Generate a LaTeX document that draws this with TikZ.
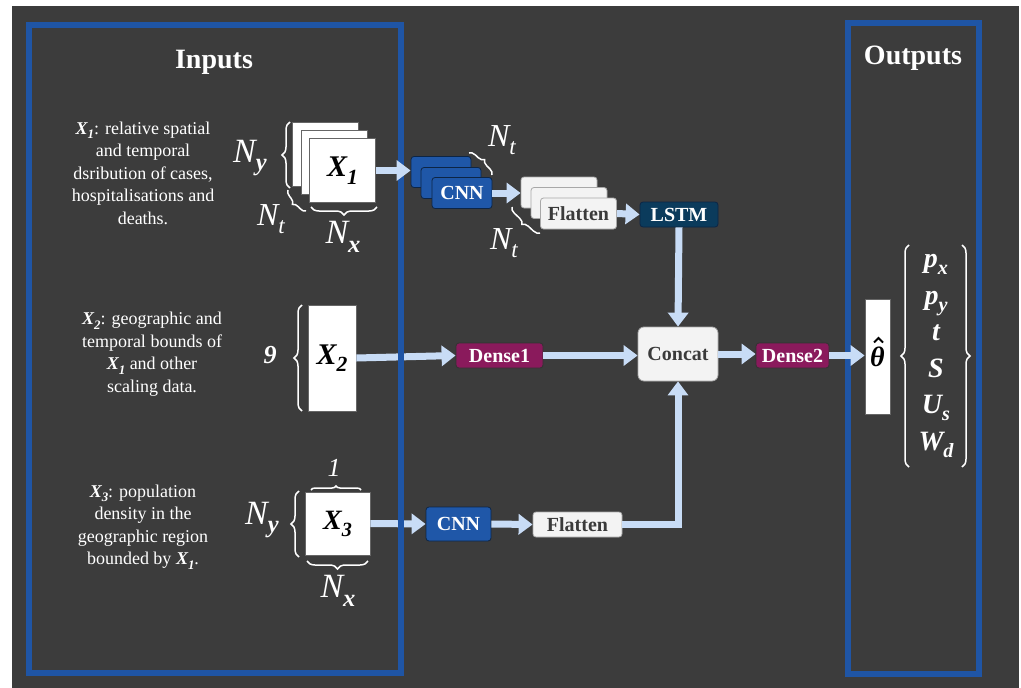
\documentclass[tikz,border=0pt]{standalone}
\usepackage{fontspec}
\usepackage{graphicx}
\setmainfont{Liberation Serif}
\usetikzlibrary{arrows.meta,decorations.pathreplacing,calc}
\definecolor{bg}{HTML}{3C3C3C}
\definecolor{boxblue}{HTML}{1F55A5}
\definecolor{cnnblue}{HTML}{1F57A8}
\definecolor{cnnedge}{HTML}{0D2545}
\definecolor{lstmc}{HTML}{0B3B5C}
\definecolor{densec}{HTML}{8A1A5C}
\definecolor{lightbox}{HTML}{F3F3F3}
\definecolor{lightedge}{HTML}{A8A8A8}
\definecolor{arrowc}{HTML}{C8DCF6}
\definecolor{darktext}{HTML}{3A3A3A}
\newcommand\sbs[1]{\raisebox{-0.25em}{\scalebox{0.72}{#1}}}
\newcommand\bx[1]{{\bfseries\itshape X\sbs{#1}}}
\newcommand\nodefont{\fontsize{20}{20}\selectfont\bfseries}
\begin{document}
\begin{tikzpicture}[x=1pt,y=-1pt,
  desc/.style={text=white, font=\fontsize{18}{22.5}\selectfont, align=center, inner sep=0},
  nlab/.style={text=white, font=\fontsize{34}{34}\selectfont\itshape, inner sep=0},
  title/.style={text=white, font=\fontsize{28}{28}\selectfont\bfseries, inner sep=0},
  sq/.style={draw=black!60, fill=white, line width=0.8, inner sep=0, minimum width=66, minimum height=64},
  bigx/.style={font=\fontsize{30}{30}\selectfont\bfseries\itshape, text=black},
  cnnbox/.style={draw=cnnedge, fill=cnnblue, line width=0.8, rounded corners=3, minimum width=60, minimum height=31, text=white, font=\nodefont, inner sep=0},
  flatbox/.style={draw=lightedge, fill=lightbox, line width=0.8, rounded corners=3, minimum width=76, minimum height=31, text=darktext, font=\nodefont, inner sep=0},
  densebox/.style={draw=black!80, fill=densec, line width=0.8, rounded corners=3, minimum height=25, text=white, font=\nodefont, inner sep=0},
  fat/.style={draw=arrowc, line width=7, -{Triangle[width=20pt,length=14pt]}},
  brc/.style={decorate, decoration={brace, amplitude=8pt}, draw=white, line width=1.5},
  sbrc/.style={decorate, decoration={brace, amplitude=6pt}, draw=white, line width=1.5},
  outline/.style={draw=boxblue, line width=6}
]
\useasboundingbox (0,0) rectangle (1021,688);
\fill[white] (0,0) rectangle (1021,688);
\fill[bg] (12,6) rectangle (1019,688);

% titles
\node[title] (tin) at (214,62) {Inputs};
\node[title] (tout) at (913,58) {Outputs};

% descriptions
\node[desc] (d1) at (143,173) {\bx{1}: relative spatial\\and temporal\\dsribution of cases,\\hospitalisations and\\deaths.};
\node[desc] (d2) at (152,354) {\bx{2}: geographic and\\temporal bounds of\\\bx{1} and other\\scaling data.};
\node[desc] (d3) at (143,527) {\bx{3}: population\\density in the\\geographic region\\bounded by \bx{1}.};

% X1 stack
\node[sq] (x1a) at (325.5,154) {};
\node[sq] (x1b) at (334,162) {};
\node[sq, bigx] (x1) at (342.5,170.5) {X\sbs{1}};
\draw[brc] (290,188) -- (290,122);
\node[nlab] (ny1) at (250,158) {N\sbs{\bfseries y}};
\draw[sbrc] (306,211) -- (288,190);
\node[nlab, font=\fontsize{32}{32}\selectfont\itshape] (nt1) at (271,219) {N\sbs{t}};
\draw[brc] (377,207) -- (311,207);
\node[nlab] (nx1) at (343,237) {N\sbs{\bfseries x}};

% CNN stack
\node[cnnbox] (c1a) at (441,172) {};
\node[cnnbox] (c1b) at (451,183) {};
\node[cnnbox] (cnn1) at (462,193) {CNN};
\draw[sbrc] (469,153) -- (492,175);
\node[nlab, font=\fontsize{32}{32}\selectfont\itshape] (nt2) at (502,140) {N\sbs{t}};

% Flatten stack
\node[flatbox] (f1a) at (559,192.5) {};
\node[flatbox] (f1b) at (569,203) {};
\node[flatbox] (flat1) at (578.5,213.5) {Flatten};
\draw[sbrc] (540,233) -- (512,207);
\node[nlab, font=\fontsize{32}{32}\selectfont\itshape] (nt3) at (504,243) {N\sbs{t}};

% LSTM
\node[cnnbox, fill=lstmc, minimum width=78, minimum height=25] (lstm) at (679,214.5) {LSTM};

% X2
\node[sq, bigx, minimum width=48, minimum height=106] (x2) at (332,358) {X\sbs{2}};
\draw[brc] (302,411) -- (302,305);
\node[nlab, font=\fontsize{26}{26}\selectfont\bfseries\itshape] (nine) at (270,355) {9};

\node[densebox, minimum width=87] (dense1) at (499.5,355.5) {Dense1};
\node[flatbox, rounded corners=6, minimum width=80, minimum height=54] (concat) at (678,354) {Concat};
\node[densebox, minimum width=73] (dense2) at (792.5,355.5) {Dense2};
\node[sq, minimum width=25, minimum height=115, font=\fontsize{28}{28}\selectfont\bfseries\itshape] (theta) at (877.5,356.5) {θ};
\draw[line width=1.8, line join=miter] ($(theta.center)+(-3.5,-14)$) -- ($(theta.center)+(1,-18.5)$) -- ($(theta.center)+(5.5,-14)$);

% outputs list
\draw[brc] (909,467) -- (909,245);
\draw[brc] (962,245) -- (962,467);
\node[text=white, font=\fontsize{28}{36.5}\selectfont\bfseries\itshape, align=center, inner sep=0] (plist) at (936,356) {p\sbs{x}\\p\sbs{y}\\t\\S\\U\sbs{s}\\W\sbs{d}};

% X3
\node[sq, bigx, minimum width=65, minimum height=63, font=\fontsize{28}{28}\selectfont\bfseries\itshape] (x3) at (337.5,523.5) {X\sbs{3}};
\draw[decorate, decoration={brace, amplitude=4pt}, draw=white, line width=1.5] (311,490) -- (361,490);
\node[nlab, font=\fontsize{26}{26}\selectfont\itshape] (one) at (334,468) {1};
\draw[brc] (299,557) -- (299,491);
\node[nlab] (ny3) at (262,520) {N\sbs{\bfseries y}};
\draw[brc] (368,561) -- (307,561);
\node[nlab] (nx3) at (338,591) {N\sbs{\bfseries x}};
\node[cnnbox, minimum width=65, minimum height=34] (cnn2) at (458.5,524) {CNN};
\node[flatbox, minimum width=89, minimum height=25] (flat2) at (577.5,524.5) {Flatten};

% connectors under the frames
\draw[fat] (x2.east) -- (dense1.west);
\draw[fat] (x3.east) -- (cnn2.west);

% frames
\draw[outline] (29,25) rectangle (401,673);
\draw[outline] (848,23) rectangle (979,674);

% other connectors
\draw[fat] (x1.east) -- (x1.east -| c1a.west);
\draw[fat] (cnn1.east) -- (cnn1.east -| f1a.west);
\draw[fat] (flat1.east) -- (lstm.west);
\draw[fat] (lstm.south) -- (concat.north);
\draw[fat] (dense1.east) -- (dense1.east -| concat.west);
\draw[fat] (concat.east) -- (concat.east -| dense2.west);
\draw[fat] (dense2.east) -- (dense2.east -| theta.west);
\draw[fat] (cnn2.east) -- (flat2.west);
\draw[fat] (flat2.east) -| (concat.south);
\end{tikzpicture}
\end{document}
